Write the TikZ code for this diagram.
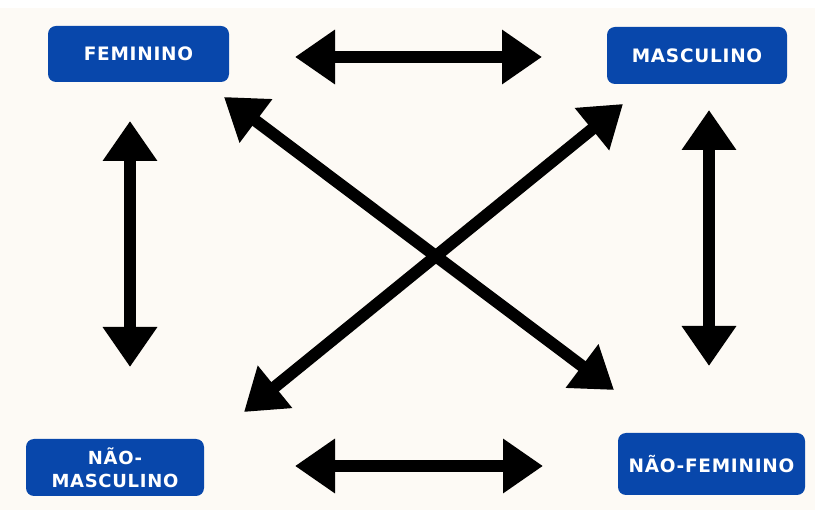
\documentclass[tikz,border=0pt]{standalone}
\usepackage{fontspec}
\setmainfont{Open Sans}
\newfontfamily\boxfont[LetterSpace=4]{DejaVu Sans}
\usetikzlibrary{arrows.meta}
\definecolor{cream}{RGB}{253,250,245}
\definecolor{boxblue}{RGB}{8,71,171}
\begin{document}
\begin{tikzpicture}[x=1pt,y=-1pt,
  catbox/.style={rectangle, rounded corners=8pt, fill=boxblue, text=white,
    font=\boxfont\fontsize{18.5}{23}\selectfont\bfseries, align=center, inner sep=0pt},
  bigarrow/.style={line width=12pt, draw=black,
    {Triangle[length=40pt,width=52pt]}-{Triangle[length=40pt,width=52pt]}}]
\useasboundingbox (0,0) rectangle (815,510);
\fill[white] (0,0) rectangle (815,8);
\fill[cream] (0,8) rectangle (815,510);
\node[catbox, minimum width=181pt, minimum height=56pt] (fem) at (138.5,54) {FEMININO};
\node[catbox, minimum width=180pt, minimum height=57pt] (masc) at (697,55.5) {MASCULINO};
\node[catbox, minimum width=178pt, minimum height=57pt, font=\boxfont\fontsize{18}{23}\selectfont\bfseries] (nmasc) at (115,467.5) {NÃO-\\MASCULINO};
\node[catbox, minimum width=187pt, minimum height=62pt] (nfem) at (711.5,464) {NÃO-FEMININO};
\coordinate (t1) at (295,57); \coordinate (t2) at (542,57);
\coordinate (b1) at (295,466); \coordinate (b2) at (543,466);
\coordinate (l1) at (130,121); \coordinate (l2) at (130,367);
\coordinate (r1) at (709,110); \coordinate (r2) at (709,366);
\coordinate (d1) at (224,97); \coordinate (d2) at (614,390);
\coordinate (e1) at (623,104); \coordinate (e2) at (244,412);
\draw[bigarrow] (t1) -- (t2);
\draw[bigarrow] (b1) -- (b2);
\draw[bigarrow] (l1) -- (l2);
\draw[bigarrow] (r1) -- (r2);
\draw[bigarrow] (d1) -- (d2);
\draw[bigarrow] (e1) -- (e2);
\end{tikzpicture}
\end{document}
